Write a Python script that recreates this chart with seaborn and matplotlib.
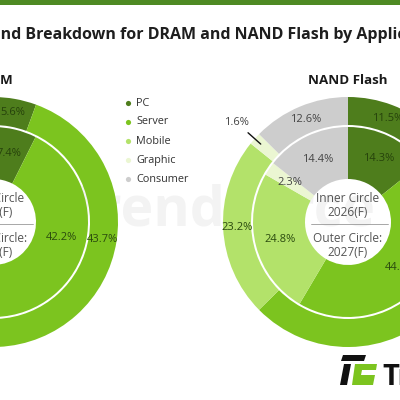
import matplotlib
matplotlib.use('Agg')
import matplotlib.pyplot as plt
import seaborn as sns
import numpy as np
from matplotlib.patches import Polygon

# Data (inner circle = 2026F, outer circle = 2027F), share in %
categories = ['PC', 'Server', 'Mobile', 'Graphic', 'Consumer']
dram_2026 = [7.4, 42.2, 36.6, 4.9, 8.9]
dram_2027 = [5.6, 43.7, 36.3, 5.4, 9.0]
nand_2026 = [14.3, 44.2, 24.8, 2.3, 14.4]
nand_2027 = [11.5, 51.1, 23.2, 1.6, 12.6]

colors = ['#4e7d1c', '#7cc41f', '#b3e26a', '#ebf6d2', '#cdcdcd']
label_colors = ['#26420b', '#2a4a0e', '#2a4a0e', '#444444', '#444444']

TITLE = 'Demand Breakdown for DRAM and NAND Flash by Application'

sns.set_theme(style='white')
plt.rcParams['font.family'] = ['Open Sans', 'DejaVu Sans']

W = H = 400
R_OUT, R_GAP, R_IN, R_HOLE = 125, 97, 95, 43

fig = plt.figure(figsize=(4, 4), dpi=100)
ax = fig.add_axes([0, 0, 1, 1])
pal = sns.color_palette(colors)
renderer = fig.canvas.get_renderer()


def Y(y_top):
    # pixel row (from top) -> data y
    return H - y_top


def text_w(s, size):
    t = fig.text(0, 0, s, fontsize=size, fontweight='bold')
    w = t.get_window_extent(renderer).width
    t.remove()
    return w


def ring_labels(vals, cx, cy, r, callout_r=None):
    cum = 0
    for i, v in enumerate(vals):
        mid = cum + v / 2
        cum += v
        th = np.deg2rad(90 - 360 * mid / 100)
        if v < 2 and callout_r is not None:
            ax.plot([cx + 117 * np.cos(th), cx + 134 * np.cos(th)],
                    [cy + 117 * np.sin(th), cy + 134 * np.sin(th)],
                    color='#111111', lw=1.0, zorder=5)
            ax.text(cx + callout_r * np.cos(th), cy + callout_r * np.sin(th),
                    f'{v:.1f}%', ha='center', va='center', fontsize=8,
                    color='#444444', zorder=6)
            continue
        ax.text(cx + r * np.cos(th), cy + r * np.sin(th), f'{v:.1f}%',
                ha='center', va='center', fontsize=8,
                color=label_colors[i], zorder=6)


def donut(cx, cy_top, inner, outer, name):
    cy = Y(cy_top)
    ax.pie(outer, radius=R_OUT, center=(cx, cy), startangle=90,
           counterclock=False, colors=pal,
           wedgeprops=dict(width=R_OUT - R_GAP, linewidth=0))
    ax.pie(inner, radius=R_IN, center=(cx, cy), startangle=90,
           counterclock=False, colors=pal,
           wedgeprops=dict(width=R_IN - R_HOLE, linewidth=0))
    ring_labels(outer, cx, cy, 111, callout_r=150)
    ring_labels(inner, cx, cy, 70)
    # centre legend
    ax.text(cx, cy + 24, 'Inner Circle', ha='center', va='center',
            fontsize=8.6, color='#555555')
    ax.text(cx, cy + 10, '2026(F)', ha='center', va='center',
            fontsize=8.6, color='#555555')
    ax.plot([cx - 37, cx + 40], [cy - 2, cy - 2], color='#999999', lw=0.6)
    ax.text(cx, cy - 16, 'Outer Circle:', ha='center', va='center',
            fontsize=8.6, color='#555555')
    ax.text(cx, cy - 31, '2027(F)', ha='center', va='center',
            fontsize=8.6, color='#555555')
    ax.text(cx, Y(81), name, ha='center', va='center', fontsize=9.6,
            fontweight='bold', color='#1a1a1a')


# watermark behind the donuts
ax.text(222, Y(225), 'TrendForce', ha='center', va='baseline', fontsize=40,
        fontweight='bold', color='#f3f3f3', zorder=0)

donut(-7, 222, dram_2026, dram_2027, 'DRAM')
donut(348, 222, nand_2026, nand_2027, 'NAND Flash')

# legend
for i, (cat, c) in enumerate(zip(categories, colors)):
    yy = Y(103 + 19 * i)
    ax.scatter([128], [yy], s=14, color=c, linewidths=0, zorder=5)
    ax.text(136, yy, cat, ha='left', va='center', fontsize=7.8,
            color='#333333')

# top bar and title (the figure is a crop: "nd ... Appli" spans the width)
ax.axhspan(Y(5), Y(0), color='#4e8a23', lw=0)
visible = TITLE[TITLE.index('nd B'):TITLE.index('Appli') + 5]
t_size = 11.5 * 398 / text_w(visible, 11.5)
t_x = 1 - text_w('Dema', t_size)
ax.text(t_x, Y(35), TITLE, ha='left', va='center', fontsize=t_size,
        fontweight='bold', color='#1e1e1e')

# logo
ax.add_patch(Polygon([(343, Y(355)), (366, Y(355)), (364, Y(361)), (341, Y(361))],
                     closed=True, color='#111111', lw=0))
ax.add_patch(Polygon([(344, Y(364)), (351, Y(364)), (347, Y(385)), (340, Y(385))],
                     closed=True, color='#111111', lw=0))
ax.add_patch(Polygon([(355, Y(364)), (377, Y(364)), (376, Y(370)), (362, Y(370)),
                      (361, Y(375)), (375, Y(375)), (373, Y(385)), (352, Y(385))],
                     closed=True, color='#7cc41f', lw=0))
ax.text(382, Y(385), 'TrendForce', ha='left', va='baseline', fontsize=21,
        fontweight='bold', color='#111111')

ax.set_xlim(0, W)
ax.set_ylim(0, H)
ax.set_aspect('equal')
ax.axis('off')

fig.savefig('out.png', dpi=100)
